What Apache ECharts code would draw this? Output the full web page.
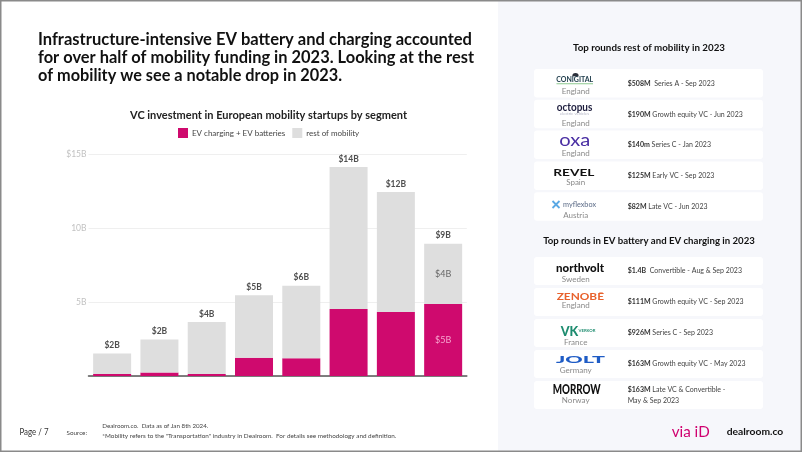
<!DOCTYPE html>
<html><head><meta charset="utf-8">
<script src="https://cdn.jsdelivr.net/npm/echarts@6/dist/echarts.min.js"></script>
<style>html,body{margin:0;padding:0;background:#fff}#c{width:802px;height:452px}</style>
</head><body><div id="c"></div>
<script>
// ---------- DATA ----------
const years = ['2016','2017','2018','2019','2020','2021','2022','2023'];
const evValues   = [0.14, 0.23, 0.14, 1.24, 1.20, 4.54, 4.33, 4.88];
const restValues = [1.39, 2.25, 3.52, 4.22, 4.92, 9.61, 8.13, 4.08];
const totalLabels = ['$2B','$2B','$4B','$5B','$6B','$14B','$12B','$9B'];
const evInnerLabels   = [null,null,null,null,null,null,null,'$5B'];
const restInnerLabels = [null,null,null,null,null,null,null,'$4B'];
const yTickLabels = {0:'', 5:'5B', 10:'10B', 15:'$15B'};
const seriesNames = ['EV charging + EV batteries', 'rest of mobility'];

const titleLines = [
  'Infrastructure-intensive EV battery and charging accounted',
  'for over half of mobility funding in 2023. Looking at the rest',
  'of mobility we see a notable drop in 2023.'
];
const chartTitle = 'VC investment in European mobility startups by segment';

const mobTitle = 'Top rounds rest of mobility in 2023';
const mobCompanies = ['CONIGITAL','octopus','oxa','REVEL','myflexbox'];
const mobCountries = ['England','England','England','Spain','Austria'];
const mobAmounts = ['$508M','$190M','$140m','$125M','$82M'];
const mobDeals = ['  Series A - Sep 2023',' Growth equity VC - Jun 2023',' Series C - Jan 2023',' Early VC - Sep 2023',' Late VC - Jun 2023'];

const evTitle = 'Top rounds in EV battery and EV charging in 2023';
const evCompanies = ['northvolt','ZENOBĒ','VK','JOLT','MORROW'];
const evCountries = ['Sweden','England','France','Germany','Norway'];
const evAmounts = ['$1.4B','$111M','$926M','$163M','$163M'];
const evDeals = ['  Convertible - Aug & Sep 2023',' Growth equity VC - Sep 2023',' Series C - Sep 2023',' Growth equity VC - May 2023',' Late VC & Convertible -\nMay & Sep 2023'];

const pageLabel = 'Page / 7';
const sourceLabel = 'Source:';
const sourceLines = ['Dealroom.co.  Data as of Jan 8th 2024.',
  '*Mobility refers to the "Transportation" industry in Dealroom.  For details see methodology and definition.'];

// ---------- HELPERS ----------
const FF = 'Lato';
const cv = document.createElement('canvas').getContext('2d');
function measure(text, size, weight){ cv.font = (weight||'normal')+' '+size+'px '+FF; return cv.measureText(text).width; }
function T(x, y, text, o){
  o = o || {};
  const size = o.size || 8, weight = o.weight || 'normal';
  let sx = 1;
  if (o.w) sx = o.w / measure(text, size, weight);
  if (o.sx) sx = o.sx;
  const align = o.align || 'left';
  return {type:'text', x:x, y:y, scaleX:sx, z:o.z||10, silent:true,
    style:{text:text, x:0, y:0, fontSize:size, fontWeight:weight, fontFamily:FF,
      fill:o.color||'#222', textAlign:align, align:align,
      textVerticalAlign:'middle', verticalAlign:'middle'}};
}

const G = [];
// panel background
G.push({type:'rect', z:1, silent:true, shape:{x:498,y:0,width:304,height:452}, style:{fill:'#f6f7fb'}});
// main title
const tl = [38, 38, 38], ty = [39.5, 57.5, 75.7], tw = [434, 436, 304];
titleLines.forEach((s,i)=>G.push(T(tl[i], ty[i], s, {size:16.5, weight:'bold', color:'#111', w:tw[i]})));
// chart title
G.push(T(268.5, 115, chartTitle, {size:11, weight:'bold', color:'#222', align:'center', w:277}));

// right panel titles
G.push(T(649, 48.3, mobTitle, {size:9.5, weight:'bold', color:'#111', align:'center', w:152}));
G.push(T(649, 240.7, evTitle, {size:9.5, weight:'bold', color:'#111', align:'center', w:211.7}));

// cards
for (let i=0;i<5;i++){
  G.push({type:'rect', z:2, silent:true, shape:{x:534,y:69+i*30.8,width:229,height:28.5,r:3}, style:{fill:'#ffffff'}});
  G.push({type:'rect', z:2, silent:true, shape:{x:534,y:257+i*31,width:229,height:28,r:3}, style:{fill:'#ffffff'}});
}
// deal text scale
const DS = 8;
const dealScale = 115 / measure('$190M Growth equity VC - Jun 2023', DS, 'normal');
function deal(y, amt, rest){
  const x0 = 627.7;
  const aw = measure(amt, DS, 'bold');
  const parts = rest.split('\n');
  if (parts.length === 1){
    G.push(T(x0, y, amt, {size:DS, weight:'bold', color:'#333', sx:dealScale}));
    G.push(T(x0 + aw*dealScale, y, parts[0], {size:DS, color:'#444', sx:dealScale}));
  } else {
    G.push(T(x0, y-5.4, amt, {size:DS, weight:'bold', color:'#333', sx:dealScale}));
    G.push(T(x0 + aw*dealScale, y-5.4, parts[0], {size:DS, color:'#444', sx:dealScale}));
    G.push(T(x0, y+5.4, parts[1], {size:DS, color:'#444', sx:dealScale}));
  }
}
mobAmounts.forEach((a,i)=>deal(83.3 + i*30.8, a, mobDeals[i]));
evAmounts.forEach((a,i)=>deal(270 + i*31.2, a, evDeals[i]));

// countries
const LX = 575.7;
const mobCY = [91.5, 123.5, 153.8, 182.7, 215];
const evCY = [279, 305.7, 342, 370.3, 400.5];
mobCountries.forEach((c,i)=>G.push(T(LX, mobCY[i], c, {size:8, color:'#8a8a8a', align:'center'})));
evCountries.forEach((c,i)=>G.push(T(LX, evCY[i], c, {size:8, color:'#8a8a8a', align:'center'})));

// logos
// Conigital
G.push({type:'sector', z:10, silent:true, shape:{cx:575.5, cy:76.3, r:3.2, r0:0, startAngle:Math.PI, endAngle:2*Math.PI}, style:{fill:'#2a2f3a'}});
G.push(T(574.7, 80, mobCompanies[0], {size:7, weight:'bold', color:'#23404f', align:'center', w:37}));
G.push({type:'rect', z:10, silent:true, shape:{x:556.5,y:83.2,width:36.5,height:1}, style:{fill:'#8cc98f'}});
// octopus
G.push(T(574.5, 107.6, mobCompanies[1], {size:10.5, weight:'bold', color:'#1d1d3d', align:'center', w:35.6}));
G.push(T(574.5, 114, 'electric vehicles', {size:3.5, color:'#b4b6c6', align:'center', w:29}));
// oxa
G.push(T(574.7, 140.5, mobCompanies[2], {size:17, weight:'normal', color:'#4a2fa3', align:'center', w:31}));
// REVEL
G.push(T(573.8, 172.8, mobCompanies[3], {size:8.5, weight:'bold', color:'#111', align:'center', w:41}));
// myflexbox
G.push({type:'line', z:10, silent:true, shape:{x1:552.5,y1:201,x2:559.5,y2:208}, style:{stroke:'#5aa8e4', lineWidth:1.8}});
G.push({type:'line', z:10, silent:true, shape:{x1:559.5,y1:201,x2:552.5,y2:208}, style:{stroke:'#5aa8e4', lineWidth:1.8}});
G.push(T(563, 204.5, mobCompanies[4], {size:7.5, color:'#5a6a86', w:33}));
// northvolt
G.push(T(580, 268.6, evCompanies[0], {size:12, weight:'900', color:'#111', align:'center', w:48}));
// Zenobe
G.push(T(580.3, 297, evCompanies[1], {size:10, weight:'bold', color:'#e8612c', align:'center', w:47.3}));
// Verkor
G.push(T(569.5, 331.5, evCompanies[2], {size:13, weight:'900', color:'#1d8c6f', align:'center', w:17.5}));
G.push(T(578.5, 331.3, 'VERKOR', {size:3.6, weight:'bold', color:'#1d8c6f', w:17}));
// JOLT
G.push(T(580.5, 359.3, evCompanies[3], {size:10, weight:'900', color:'#1f5cc5', align:'center', w:49}));
// MORROW
G.push(T(576.7, 389.4, evCompanies[4], {size:14, weight:'900', color:'#111', align:'center', w:48}));

// footer
G.push(T(19.5, 432.5, pageLabel, {size:9, color:'#333', w:29}));
G.push(T(66.5, 432.5, sourceLabel, {size:6.5, color:'#444', w:20.5}));
G.push(T(102.3, 426.4, sourceLines[0], {size:6, color:'#444', w:106}));
G.push(T(102.3, 435.8, sourceLines[1], {size:6, color:'#444', w:294}));
G.push(T(671.7, 432, 'via iD', {size:16, color:'#d0006f', w:38}));
G.push(T(726.7, 432, 'dealroom.co', {size:10, weight:'bold', color:'#111', w:56.6}));

// border
G.push({type:'rect', z:50, silent:true, shape:{x:0.75,y:0.75,width:800.5,height:450.5}, style:{fill:'none', stroke:'#8a8a8a', lineWidth:1.5}});

// ---------- CHART ----------
const PINK = '#cf0a6e', GREY = '#dedede';
const chart = echarts.init(document.getElementById('c'), null, {renderer:'canvas'});
chart.setOption({
  animation:false,
  backgroundColor:'#ffffff',
  textStyle:{fontFamily:FF},
  legend:{
    data:seriesNames, left:178, top:128, padding:0, itemWidth:10, itemHeight:10, itemGap:7,
    icon:'rect', textStyle:{fontSize:8, color:'#444', fontFamily:FF, padding:[0,0,0,-1]}, selectedMode:false
  },
  grid:{left:88.5, right:335.2, top:154.5, bottom:76, containLabel:false},
  xAxis:{type:'category', data:years,
    axisLine:{show:true, lineStyle:{color:'#555', width:1.5}},
    axisTick:{show:false}, axisLabel:{show:false}},
  yAxis:{type:'value', min:0, max:15, interval:5,
    axisLine:{show:false}, axisTick:{show:false},
    splitLine:{lineStyle:{color:'#efefef', width:1}},
    axisLabel:{formatter:v=>yTickLabels[v]||'', color:'#c2c2c2', fontSize:8.5, margin:2, fontFamily:FF}},
  series:[
    {name:seriesNames[0], type:'bar', stack:'a', barWidth:38,
      itemStyle:{color:PINK},
      data:evValues.map((v,i)=>evInnerLabels[i] ? {value:v, label:{show:true, position:'inside', formatter:evInnerLabels[i], color:'#f7a6d0', fontSize:9, fontFamily:FF}} : v)},
    {name:seriesNames[1], type:'bar', stack:'a', barWidth:38,
      itemStyle:{color:GREY},
      data:restValues.map((v,i)=>restInnerLabels[i] ? {value:v, label:{show:true, position:'inside', formatter:restInnerLabels[i], color:'#666', fontSize:9, fontFamily:FF}} : v)},
    {name:'total', type:'scatter', symbolSize:1, silent:true,
      itemStyle:{color:'rgba(0,0,0,0)'},
      label:{show:true, position:'top', distance:3, formatter:p=>totalLabels[p.dataIndex],
        fontSize:8.5, fontWeight:'bold', color:'#222', fontFamily:FF},
      data:evValues.map((v,i)=>+(v+restValues[i]).toFixed(2))}
  ],
  graphic:{elements:G}
});
</script></body></html>
